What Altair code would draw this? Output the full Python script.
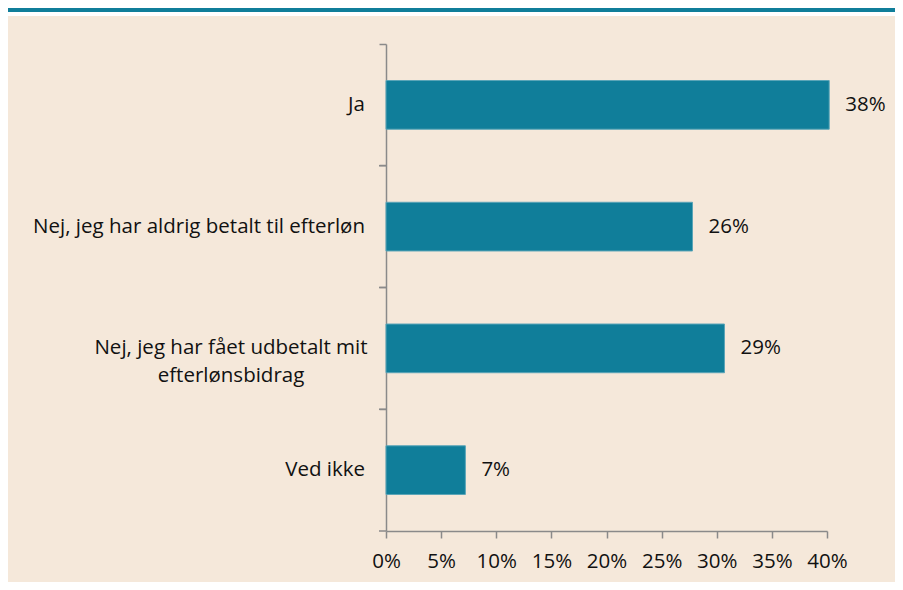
import altair as alt
import pandas as pd

# ---- data ----
categories = [
    "Ja",
    "Nej, jeg har aldrig betalt til efterløn",
    "Nej, jeg har fået udbetalt mit\nefterlønsbidrag",
    "Ved ikke",
]
# bar ends as drawn against the x axis (percent)
bar_values = [40.2, 27.8, 30.7, 7.2]
# value labels printed beside the bars
value_labels = ["38%", "26%", "29%", "7%"]
multiline = [False, False, True, False]
x_ticks = [0, 5, 10, 15, 20, 25, 30, 35, 40]

TEAL = "#107e9a"
BEIGE = "#f5e8da"
GREY = "#8a8a8a"
INK = "#111111"
FONT = "Open Sans"
FS = 20.5

df = pd.DataFrame({
    "cat": categories,
    "value": bar_values,
    "label": value_labels,
    "multi": multiline,
})

W, H = 441, 487
PAD_L, PAD_T, PAD_R, PAD_B = 378, 36, 68, 51

y_enc = alt.Y(
    "cat:N",
    sort=categories,
    scale=alt.Scale(paddingInner=0, paddingOuter=0),
    axis=alt.Axis(
        labels=False, title=None, bandPosition=0, tickSize=7,
        domainColor=GREY, tickColor=GREY, domainWidth=1.5, tickWidth=1.5,
    ),
)
x_scale = alt.Scale(domain=[0, 40], nice=False, zero=True)

base = alt.Chart(df)

bars = base.mark_bar(
    height=alt.RelativeBandSize(0.4), color=TEAL, stroke="#5aa5b8", strokeWidth=1
).encode(
    y=y_enc,
    x=alt.X(
        "value:Q",
        scale=x_scale,
        axis=alt.Axis(
            values=x_ticks, labelExpr="datum.value + '%'", title=None, grid=False,
            tickSize=7, labelPadding=13, labelOverlap=False, labelFlush=False,
            domainColor=GREY, tickColor=GREY,
            domainWidth=1.5, tickWidth=1.5, labelFont=FONT, labelFontSize=FS,
            labelColor=INK,
        ),
    ),
)

bottom_tick = base.mark_rule(color=GREY, strokeWidth=1.5).encode(
    y=alt.Y("cat:N", sort=categories, bandPosition=1),
    x=alt.value(-7),
    x2=alt.value(0),
)

value_text = base.mark_text(
    align="left", baseline="middle", dx=16, font=FONT, fontSize=FS, color=INK
).encode(
    y=alt.Y("cat:N", sort=categories),
    x=alt.X("value:Q", scale=x_scale),
    text="label:N",
)

cat_single = base.transform_filter("!datum.multi").mark_text(
    align="right", baseline="middle", font=FONT, fontSize=FS, color=INK
).encode(
    y=alt.Y("cat:N", sort=categories),
    x=alt.value(-21),
    text="cat:N",
)

cat_multi = base.transform_filter("datum.multi").mark_text(
    align="center", baseline="middle", font=FONT, fontSize=FS, color=INK,
    lineBreak="\n", lineHeight=28,
).encode(
    y=alt.Y("cat:N", sort=categories),
    x=alt.value(-155),
    text="cat:N",
)

one = alt.Data(values=[{}])
white_strip = alt.Chart(one).mark_rect(color="white").encode(
    x=alt.value(-PAD_L), x2=alt.value(W + PAD_R),
    y=alt.value(-PAD_T), y2=alt.value(-PAD_T + 8),
)
teal_strip = alt.Chart(one).mark_rect(color=TEAL).encode(
    x=alt.value(-PAD_L), x2=alt.value(W + PAD_R),
    y=alt.value(-PAD_T), y2=alt.value(-PAD_T + 4),
)

chart = alt.layer(
    white_strip, teal_strip, bars, bottom_tick, value_text, cat_single, cat_multi
).properties(
    width=W, height=H,
    autosize=alt.AutoSizeParams(type="none"),
    padding={"left": PAD_L, "top": PAD_T, "right": PAD_R, "bottom": PAD_B},
    background=BEIGE,
).configure_view(stroke=None)

chart.save("out.html", embed_options={"renderer": "svg", "actions": False})
